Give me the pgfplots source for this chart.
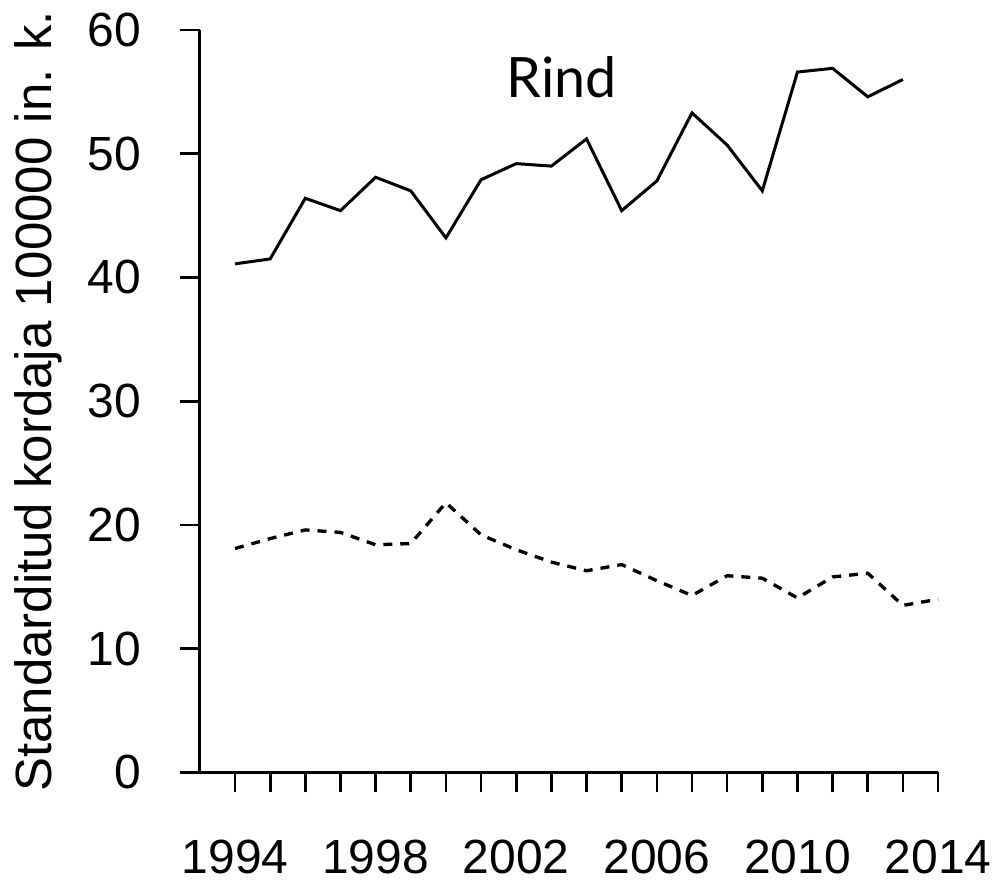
\documentclass[border=0pt]{standalone}
\usepackage{pgfplots}
\pgfplotsset{compat=1.18}
\usepackage{fontspec}
\setmainfont{Liberation Sans}
\newfontfamily\rindfont{Lato}

% one pixel of the reference = 0.3pt
\pgfplotstableread{
year val
1994 41.1
1995 41.5
1996 46.4
1997 45.4
1998 48.1
1999 47.0
2000 43.2
2001 47.9
2002 49.2
2003 49.0
2004 51.2
2005 45.4
2006 47.8
2007 53.3
2008 50.7
2009 47.0
2010 56.6
2011 56.9
2012 54.6
2013 56.0
}\rind

\pgfplotstableread{
year val
1994 18.1
1995 18.9
1996 19.6
1997 19.4
1998 18.4
1999 18.5
2000 21.8
2001 19.2
2002 18.0
2003 17.0
2004 16.3
2005 16.8
2006 15.5
2007 14.3
2008 15.9
2009 15.7
2010 14.1
2011 15.8
2012 16.1
2013 13.5
2014 14.0
}\other

\begin{document}
\begin{tikzpicture}
\begin{axis}[
    name=ax,
    scale only axis,
    width=221.6pt, height=222.9pt,
    xmin=1993, xmax=2014,
    ymin=0, ymax=60,
    axis x line=bottom, axis y line=left,
    axis line style={line width=0.9pt, -},
    tick style={line width=0.8pt, black},
    tick align=outside,
    major tick length=6pt,
    minor tick length=6pt,
    xtick={1994,1998,...,2014},
    minor xtick={1995,1996,1997,1999,2000,2001,2003,2004,2005,2007,2008,2009,2011,2012,2013},
    ytick={0,10,...,60},
    xticklabel={\pgfmathprintnumber[1000 sep={}]{\tick}},
    /pgf/number format/assume math mode=true,
    ticklabel style={font=\fontsize{14.4}{17}\selectfont, inner sep=0pt},
    xticklabel style={anchor=north, yshift=-14pt},
    yticklabel style={anchor=east, xshift=-11.4pt},
    ylabel={Standarditud kordaja 100000 in. k.},
    ylabel style={at={(axis description cs:-0.2193,0.5)}, anchor=center,
        font=\fontsize{15.3}{18}\selectfont},
    clip=false,
]
\addplot[black, line width=0.9pt] table[x=year, y=val] {\rind};
\addplot[black, line width=1pt, dash pattern=on 2.7pt off 2.4pt] table[x=year, y=val] {\other};
\node[font=\rindfont\fontsize{16.7}{20}\selectfont] at (axis cs:2003.29,56.2) {Rind};
\end{axis}
\pgfresetboundingbox
\path ([shift={(-60pt,-32.1pt)}]ax.south west) rectangle ([shift={(20.1pt,9pt)}]ax.north east);
\end{tikzpicture}
\end{document}
